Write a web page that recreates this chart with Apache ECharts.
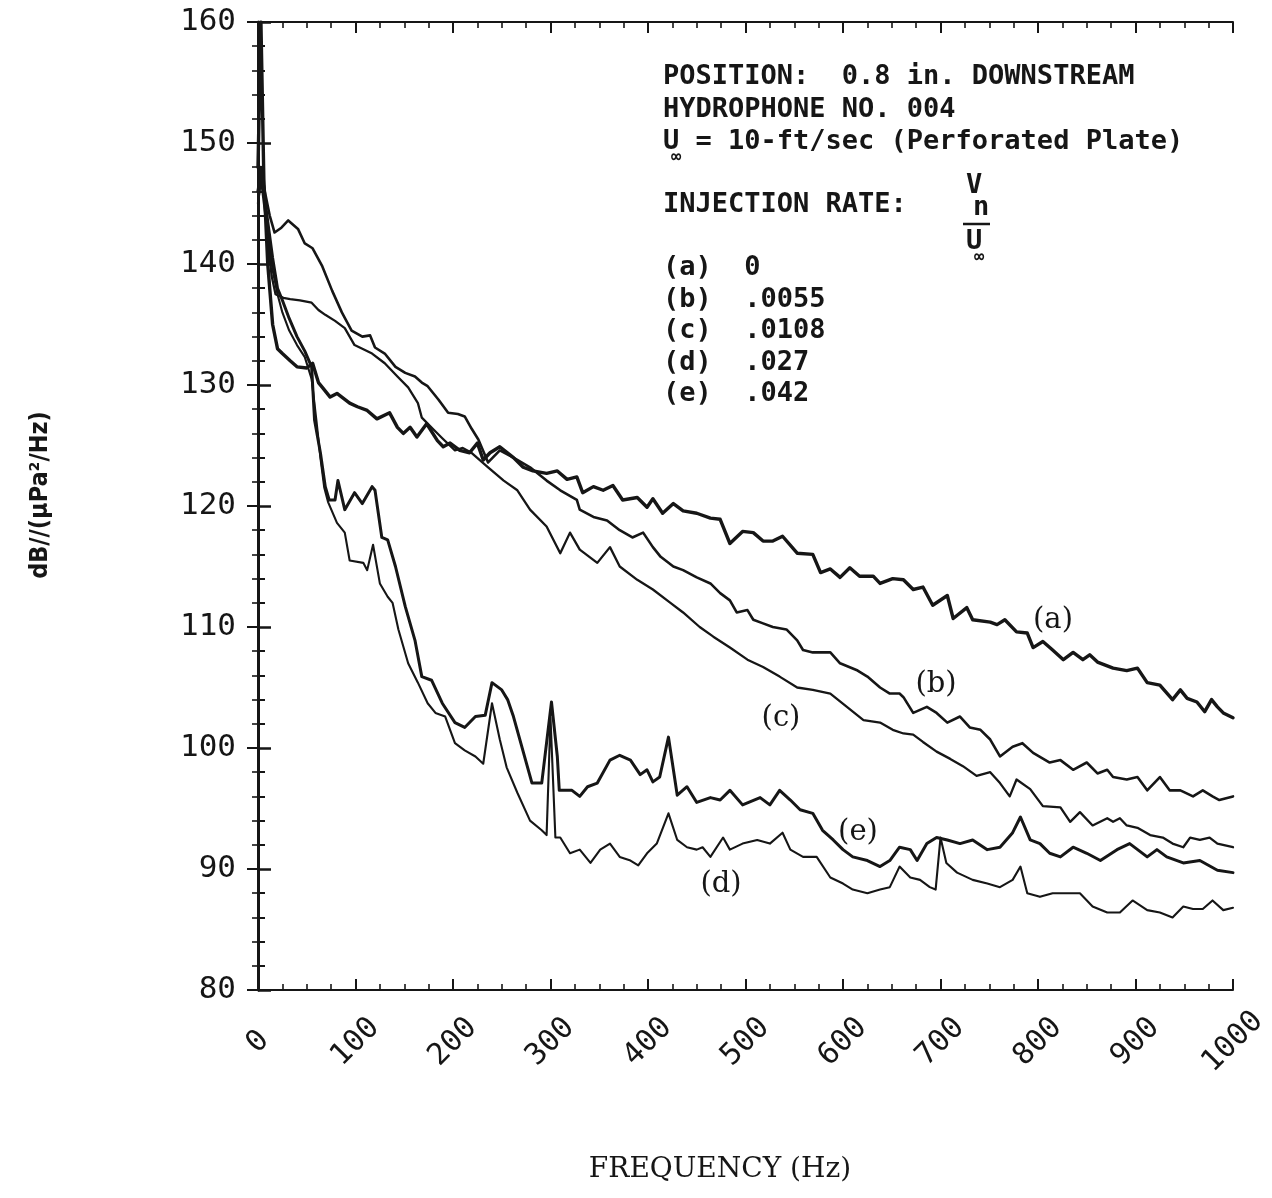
<!DOCTYPE html>
<html>
<head>
<meta charset="utf-8">
<script src="https://cdn.jsdelivr.net/npm/echarts@6/dist/echarts.min.js"></script>
<style>
html,body{margin:0;padding:0;background:#fff;}
#chart{width:1272px;height:1198px;}
</style>
</head>
<body>
<div id="chart"></div>
<script>
// Frequency (Hz) / level dB re 1 uPa^2/Hz
const curveA = [[0,148],[3,160],[6,147],[10,140],[15,135],[20,133],[25,132.6],[33,132],[40,131.5],[50,131.4],[56,131.8],[62,130.2],[66,129.8],[74,129],[81,129.3],[94,128.5],[102,128.2],[112,127.9],[122,127.2],[135,127.7],[143,126.5],[149,126],[156,126.5],[163,125.7],[173,126.8],[184,125.4],[190,124.9],[197,125.2],[207,124.6],[217,124.4],[225,125.2],[231,123.8],[238,124.4],[248,124.9],[262,124.0],[272,123.2],[282,122.9],[296,122.7],[307,122.9],[317,122.2],[327,122.4],[333,121.1],[344,121.6],[354,121.3],[364,121.7],[374,120.5],[389,120.7],[399,119.9],[405,120.6],[415,119.4],[426,120.2],[436,119.6],[450,119.4],[464,119.0],[474,118.9],[484,116.9],[497,117.9],[508,117.8],[518,117.1],[528,117.1],[538,117.5],[553,116.1],[569,116.0],[577,114.5],[587,114.8],[597,114.1],[607,114.9],[617,114.2],[631,114.2],[638,113.6],[651,114.0],[662,113.9],[672,113.1],[682,113.3],[692,111.8],[707,112.6],[713,110.7],[727,111.6],[733,110.6],[751,110.4],[758,110.2],[766,110.6],[778,109.6],[789,109.5],[795,108.3],[805,108.8],[815,108.1],[826,107.3],[836,107.9],[846,107.3],[853,107.7],[861,107.1],[877,106.6],[891,106.4],[902,106.6],[912,105.4],[925,105.2],[938,104.0],[946,104.8],[953,104.1],[963,103.8],[971,103.0],[978,104.0],[984,103.4],[990,102.9],[1000,102.5]];

const curveB = [[0,146],[3,148],[7,146],[12,144],[17,142.6],[24,143.0],[31,143.6],[41,142.9],[48,141.7],[56,141.3],[66,139.8],[76,137.8],[86,136.0],[96,134.5],[107,134.0],[115,134.1],[120,133.1],[130,132.6],[141,131.5],[151,131.0],[161,130.7],[168,130.2],[174,129.9],[185,128.8],[195,127.7],[205,127.6],[212,127.4],[219,126.4],[226,125.5],[236,123.6],[248,124.6],[262,124.0],[279,123.2],[296,122.1],[310,121.3],[327,120.5],[330,119.7],[344,119.1],[358,118.8],[371,118.0],[384,117.4],[395,117.8],[405,116.6],[413,115.8],[426,115.0],[436,114.7],[450,114.1],[464,113.6],[474,112.8],[484,112.2],[491,111.2],[502,111.4],[508,110.6],[518,110.3],[528,110.0],[542,109.8],[553,108.9],[559,108.1],[569,107.9],[587,107.9],[597,107.0],[615,106.4],[625,105.9],[638,105.0],[648,104.5],[658,104.5],[662,104.2],[672,102.9],[686,103.4],[696,102.9],[707,102.1],[720,102.6],[730,101.7],[741,101.5],[751,100.7],[761,99.3],[774,100.1],[784,100.4],[795,99.6],[812,98.8],[823,99.0],[836,98.2],[850,98.8],[861,97.9],[871,98.2],[877,97.6],[891,97.4],[902,97.6],[912,96.5],[925,97.6],[935,96.5],[946,96.5],[959,96.0],[969,96.5],[979,96.0],[986,95.7],[1000,96.0]];

const curveC = [[0,145],[3,147],[6,146],[10,142],[14,139],[18,137.5],[26,137.2],[33,137.1],[43,137.0],[55,136.8],[62,136.2],[69,135.8],[79,135.3],[89,134.7],[99,133.3],[107,133.0],[117,132.6],[130,131.8],[143,130.7],[154,129.8],[164,128.5],[168,127.3],[179,126.4],[189,125.6],[202,124.6],[210,124.8],[219,124.4],[236,123.2],[252,122.1],[266,121.3],[279,119.7],[296,118.3],[310,116.1],[320,117.8],[330,116.4],[348,115.3],[361,116.6],[371,115.0],[389,113.9],[405,113.1],[423,112.0],[436,111.2],[453,110.0],[467,109.2],[484,108.3],[502,107.3],[518,106.7],[535,105.9],[553,105.0],[569,104.8],[587,104.5],[604,103.4],[621,102.3],[638,102.1],[651,101.5],[662,101.2],[672,101.1],[682,100.5],[696,99.7],[710,99.1],[723,98.5],[737,97.7],[751,98.0],[761,97.1],[771,96.0],[778,97.4],[792,96.6],[805,95.2],[823,95.1],[833,93.9],[843,94.7],[856,93.6],[871,94.2],[877,93.9],[884,94.2],[891,93.6],[902,93.4],[915,92.8],[928,92.6],[938,92.1],[949,91.8],[956,92.6],[966,92.4],[976,92.6],[984,92.1],[1000,91.8]];

const curveD = [[0,145],[3,147],[6,145],[10,142.5],[15,139.5],[20,137.5],[25,136.0],[32,134.5],[40,133.3],[48,132.3],[55,130.5],[60,127],[64,124],[68,121.5],[72,120.3],[81,118.6],[89,117.8],[94,115.5],[108,115.3],[112,114.7],[118,116.8],[125,113.6],[133,112.5],[138,112.0],[144,109.8],[154,107.0],[164,105.4],[174,103.7],[182,102.9],[192,102.6],[202,100.4],[212,99.8],[223,99.3],[231,98.7],[240,103.7],[248,100.7],[255,98.4],[266,96.3],[279,94.0],[291,93.2],[296,92.8],[300,102.5],[305,92.6],[310,92.6],[320,91.3],[330,91.6],[341,90.5],[351,91.6],[361,92.1],[371,91.0],[382,90.7],[390,90.3],[399,91.3],[409,92.1],[421,94.6],[430,92.4],[440,91.8],[450,91.6],[456,91.8],[464,91.0],[477,92.6],[484,91.6],[497,92.1],[512,92.4],[525,92.1],[538,93.0],[546,91.6],[559,91.0],[573,91.0],[587,89.3],[600,88.8],[610,88.3],[625,88.0],[638,88.3],[648,88.5],[658,90.2],[669,89.3],[679,89.1],[689,88.5],[695,88.3],[700,92.6],[706,90.5],[717,89.7],[733,89.1],[748,88.8],[761,88.5],[774,89.1],[782,90.2],[789,88.0],[802,87.7],[815,88.0],[830,88.0],[843,88.0],[856,86.9],[871,86.4],[884,86.4],[897,87.4],[912,86.6],[925,86.4],[938,86.0],[949,86.9],[959,86.7],[969,86.7],[979,87.4],[990,86.6],[1000,86.8]];

const curveE = [[0,146],[3,148],[6,146],[10,143.5],[15,140.5],[20,138],[25,137],[32,135.5],[40,134],[48,132.8],[55,131.5],[58,127.1],[64,124.4],[69,121.6],[73,120.5],[79,120.5],[82,122.1],[89,119.7],[99,121.1],[107,120.2],[117,121.6],[120,121.3],[127,117.4],[133,117.2],[141,115.0],[151,111.7],[161,108.9],[168,105.9],[178,105.6],[189,103.7],[202,102.1],[212,101.7],[223,102.6],[233,102.7],[240,105.4],[250,104.8],[256,104.0],[262,102.6],[281,97.1],[291,97.1],[301,103.8],[307,99.3],[309,96.5],[322,96.5],[330,96.0],[338,96.8],[348,97.1],[361,99.0],[371,99.4],[382,99.0],[392,97.8],[399,98.2],[405,97.2],[412,97.6],[421,100.9],[430,96.1],[440,96.8],[450,95.5],[464,95.9],[474,95.7],[484,96.5],[497,95.3],[515,95.9],[525,95.3],[535,96.5],[546,95.7],[556,94.9],[569,94.6],[579,93.2],[590,92.4],[600,91.6],[610,91.0],[625,90.7],[638,90.2],[648,90.7],[658,91.8],[669,91.6],[676,90.7],[686,92.1],[696,92.6],[707,92.4],[720,92.1],[733,92.4],[748,91.6],[761,91.8],[774,93.0],[782,94.3],[792,92.4],[802,92.1],[812,91.3],[823,91.0],[836,91.8],[850,91.3],[864,90.7],[881,91.6],[894,92.1],[912,91.0],[922,91.6],[932,91.0],[949,90.5],[966,90.7],[984,89.9],[1000,89.7]];

const seriesNames = ['(a)', '(b)', '(c)', '(d)', '(e)'];
const injectionRates = ['0', '.0055', '.0108', '.027', '.042'];
const xTicks = [0, 100, 200, 300, 400, 500, 600, 700, 800, 900, 1000];
const yTicks = [80, 90, 100, 110, 120, 130, 140, 150, 160];

const chart = echarts.init(document.getElementById('chart'), null, {renderer: 'canvas'});
const INK = '#161616';
const MONO = '"DejaVu Sans Mono", monospace';
const SERIF = '"DejaVu Serif", serif';

function axisCommon(extra) {
  return Object.assign({
    axisLine: {show: true, lineStyle: {color: INK, width: 2}},
    axisTick: {show: true, inside: true, length: 11, lineStyle: {color: INK, width: 2}},
    minorTick: {show: true, length: 6, lineStyle: {color: INK, width: 1.6}},
    splitLine: {show: false},
    minorSplitLine: {show: false}
  }, extra);
}

const curves = [curveA, curveB, curveC, curveD, curveE];
const widths = [3.4, 2.6, 2.3, 2.1, 3.0];

const option = {
  backgroundColor: '#ffffff',
  animation: false,
  grid: {left: 258, top: 22, right: 39, bottom: 208, containLabel: false},
  xAxis: [
    axisCommon({
      type: 'value', min: 0, max: 1000, interval: 100, position: 'bottom',
      minorTick: {show: true, splitNumber: 4, length: 6, lineStyle: {color: INK, width: 1.6}},
      axisLabel: {
        show: true, rotate: 45, margin: 52, align: 'center', verticalAlign: 'middle',
        color: INK, fontFamily: MONO, fontSize: 30,
        formatter: function (v) { return xTicks.indexOf(v) >= 0 ? String(v) : ''; }
      }
    }),
    axisCommon({
      type: 'value', min: 0, max: 1000, interval: 100, position: 'top',
      minorTick: {show: true, splitNumber: 4, length: 6, lineStyle: {color: INK, width: 1.6}},
      axisLabel: {show: false}
    })
  ],
  yAxis: [
    axisCommon({
      type: 'value', min: 80, max: 160, interval: 10, position: 'left',
      axisLine: {show: true, lineStyle: {color: INK, width: 3}},
      axisTick: {show: true, inside: true, length: 13, lineStyle: {color: INK, width: 2.5}},
      minorTick: {show: true, splitNumber: 5, length: 7, lineStyle: {color: INK, width: 2}},
      axisLabel: {
        show: true, margin: 22, color: INK, fontFamily: MONO, fontSize: 31,
        formatter: function (v) { return yTicks.indexOf(v) >= 0 ? String(v) : ''; }
      }
    }),
    axisCommon({
      type: 'value', min: 80, max: 160, interval: 10, position: 'right',
      minorTick: {show: true, splitNumber: 5, length: 6, lineStyle: {color: INK, width: 1.6}},
      axisLabel: {show: false}
    })
  ],
  series: curves.map(function (c, i) {
    return {
      name: seriesNames[i], type: 'line', xAxisIndex: 0, yAxisIndex: 0,
      data: c, showSymbol: false, symbol: 'none', smooth: false,
      lineStyle: {color: INK, width: widths[i], join: 'round', cap: 'round'},
      z: 3
    };
  }),
  graphic: []
};

const G = option.graphic;
function txt(text, x, y, font, align, rot) {
  G.push({
    type: 'text', x: x, y: y, rotation: rot || 0, z: 10,
    style: {text: text, font: font, fill: INK, align: align || 'left', verticalAlign: 'middle',
            textAlign: align || 'left', textVerticalAlign: 'middle'}
  });
}
const annFont = 'bold 27px ' + MONO;
txt('POSITION:  0.8 in. DOWNSTREAM', 663, 77, annFont);
txt('HYDROPHONE NO. 004', 663, 110, annFont);
txt('U', 663, 142, annFont);
txt('\u221E', 671, 158, 'bold 17px ' + MONO);
txt('  = 10-ft/sec (Perforated Plate)', 663, 142, annFont);
txt('INJECTION RATE:', 663, 205, annFont);
txt('V', 966, 186, annFont);
txt('n', 973, 208, annFont);
G.push({type: 'line', z: 10, shape: {x1: 963, y1: 224, x2: 990, y2: 224}, style: {stroke: INK, lineWidth: 2.5}});
txt('U', 966, 242, annFont);
txt('\u221E', 974, 258, 'bold 17px ' + MONO);
for (let i = 0; i < seriesNames.length; i++) {
  txt(seriesNames[i] + '  ' + injectionRates[i], 663, 268 + i * 31.5, annFont);
}
// curve labels
const curveLabelFont = '29px ' + SERIF;
txt('(a)', 1053, 620, curveLabelFont, 'center');
txt('(b)', 936, 684, curveLabelFont, 'center');
txt('(c)', 781, 718, curveLabelFont, 'center');
txt('(e)', 858, 832, curveLabelFont, 'center');
txt('(d)', 721, 884, curveLabelFont, 'center');
// axis titles
txt('FREQUENCY (Hz)', 720, 1170, '28px ' + SERIF, 'center');
txt('dB//(\u03BCPa\u00B2/Hz)', 40, 495, 'bold 25px "DejaVu Sans Condensed", "DejaVu Sans", sans-serif', 'center', Math.PI / 2);

chart.setOption(option);
</script>
</body>
</html>
